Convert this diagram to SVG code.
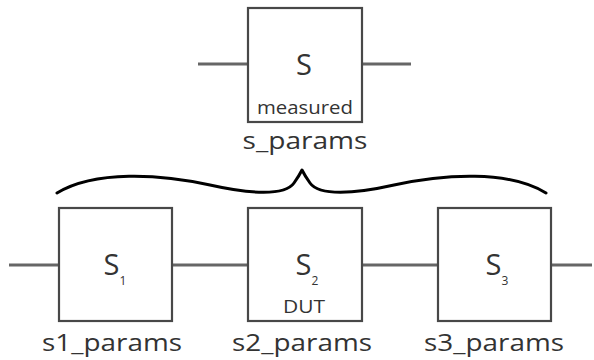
<svg xmlns="http://www.w3.org/2000/svg" width="594" height="360" viewBox="0 0 594 360">
<style>
.box{fill:#fff;stroke:#484848;stroke-width:2.2}
.wire{stroke:#666;stroke-width:3.2;fill:none}
.brace{stroke:#000;stroke-width:3;fill:none;stroke-linejoin:round;stroke-linecap:round}
text{font-family:"Open Sans","Noto Sans","Liberation Sans",sans-serif;fill:#333;text-anchor:middle}
.big{font-size:29px}
.sub{font-size:12px}
.small{font-size:18px}
.lbl{font-size:23px}
</style>
<rect width="594" height="360" fill="#fff"/>
<g id="connectors">
<line class="wire" x1="198" y1="64" x2="248" y2="64"/>
<line class="wire" x1="362" y1="64" x2="411" y2="64"/>
<line class="wire" x1="9" y1="265" x2="59" y2="265"/>
<line class="wire" x1="172" y1="265" x2="248" y2="265"/>
<line class="wire" x1="362" y1="265" x2="438" y2="265"/>
<line class="wire" x1="551" y1="265" x2="592" y2="265"/>
</g>
<g id="brace">
<path class="brace" d="M57,193 C95,170 160,174 210,185 C250,194 285,196 294,183 Q299,176 302,170 Q305,176 310,183 C319,196 354,194 394,185 C444,174 509,170 546,193"/>
</g>
<g id="s_params">
<rect class="box" x="248" y="8" width="114" height="114"/>
<text class="big" x="304" y="75">S</text>
<text class="small" x="305" y="114" textLength="96" lengthAdjust="spacingAndGlyphs">measured</text>
<text class="lbl" x="305" y="149" textLength="125" lengthAdjust="spacingAndGlyphs">s_params</text>
</g>
<g id="s1_params">
<rect class="box" x="59" y="208" width="113" height="113"/>
<text class="big" x="115" y="275">S<tspan class="sub" dy="10">1</tspan></text>
<text class="lbl" x="112" y="351" textLength="140" lengthAdjust="spacingAndGlyphs">s1_params</text>
</g>
<g id="s2_params">
<rect class="box" x="248" y="208" width="114" height="113"/>
<text class="big" x="307" y="275">S<tspan class="sub" dy="10">2</tspan></text>
<text class="small" x="304" y="313" textLength="42" lengthAdjust="spacingAndGlyphs">DUT</text>
<text class="lbl" x="302" y="351" textLength="140" lengthAdjust="spacingAndGlyphs">s2_params</text>
</g>
<g id="s3_params">
<rect class="box" x="438" y="208" width="113" height="113"/>
<text class="big" x="497" y="275">S<tspan class="sub" dy="10">3</tspan></text>
<text class="lbl" x="494" y="351" textLength="140" lengthAdjust="spacingAndGlyphs">s3_params</text>
</g>
</svg>
